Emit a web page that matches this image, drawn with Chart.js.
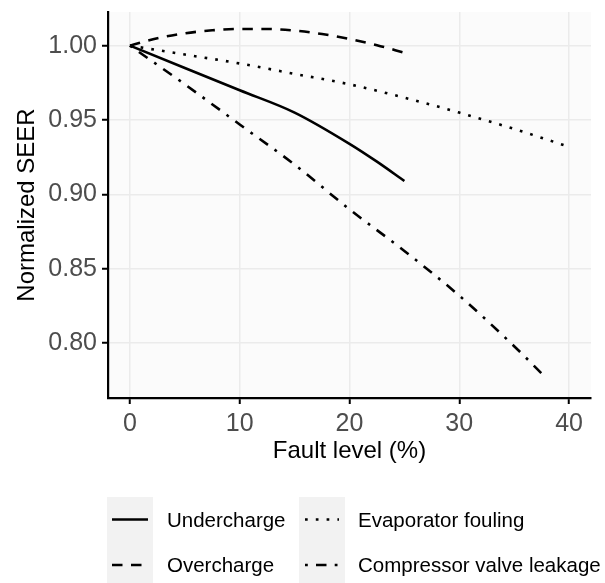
<!DOCTYPE html>
<html>
<head>
<meta charset="utf-8">
<script src="https://cdn.jsdelivr.net/npm/chart.js@4.4.0/dist/chart.umd.min.js"></script>
<style>
  html, body { margin: 0; padding: 0; background: #ffffff; }
  #wrap { width: 605px; height: 583px; position: relative; }
</style>
</head>
<body>
<div id="wrap"><canvas id="seer"></canvas></div>
<script>
// fault level (%) and normalized SEER
var underX = [0, 5, 10, 15, 20, 22.5, 25];
var underY = [1.000, 0.985, 0.970, 0.955, 0.934, 0.922, 0.909];

var overX = [0, 2.5, 5, 7.5, 10, 12.5, 15, 17.5, 20, 22.5, 25];
var overY = [1.000, 1.005, 1.0083, 1.0103, 1.0112, 1.0112, 1.0101, 1.0078, 1.0045, 1.0003, 0.9952];

var foulX = [0, 5, 10, 15, 20, 25, 30, 35, 40];
var foulY = [1.000, 0.994, 0.988, 0.981, 0.974, 0.965, 0.955, 0.944, 0.932];

var leakX = [0, 5, 10, 15, 20, 25, 30, 35, 37.6];
var leakY = [1.000, 0.974, 0.947, 0.920, 0.890, 0.862, 0.832, 0.798, 0.779];

var xTicks = [0, 10, 20, 30, 40];
var yTicks = [0.80, 0.85, 0.90, 0.95, 1.00];

var seriesNames = ["Undercharge", "Overcharge", "Evaporator fouling", "Compressor valve leakage"];

var dashes = {
	solid: [],
	dashed: [10.5, 8.5],
	dotted: [2.7, 8.1],
	dotdash: [2.8, 8.2, 10.5, 8.2]
};

function toPoints(xs, ys) {
	var pts = [];
	for (var i in xs) {
		pts.push({x: xs[i], y: ys[i]});
	}
	return pts;
}

function lineSet(label, xs, ys, dash) {
	return {
		label: label,
		data: toPoints(xs, ys),
		borderColor: "#000000",
		borderWidth: 2.6,
		borderDash: dash,
		borderCapStyle: "butt",
		pointRadius: 0,
		fill: false,
		cubicInterpolationMode: "monotone"
	};
}

var FONT = "'Liberation Sans', Arial, sans-serif";

// grey panel behind the plot area
var panelBg = {
	id: "panelBg",
	beforeDraw: function(chart) {
		var c = chart.ctx, a = chart.chartArea;
		c.save();
		c.fillStyle = "#ffffff";
		c.fillRect(0, 0, chart.width, chart.height);
		c.fillStyle = "#fbfbfb";
		c.fillRect(a.left, a.top, a.right - a.left, a.bottom - a.top);
		c.restore();
	}
};

// ggplot-like legend at the bottom, two columns
var bottomLegend = {
	id: "bottomLegend",
	afterDraw: function(chart) {
		var c = chart.ctx;
		var cols = [{bg: 107, bgW: 46, x0: 112, x1: 148, tx: 167}, {bg: 299, bgW: 46, x0: 305, x1: 339, tx: 358}];
		var rows = [519.5, 565];
		var order = [[0, 0, "solid"], [0, 1, "dashed"], [1, 0, "dotted"], [1, 1, "dotdash"]];
		c.save();
		c.fillStyle = "#f2f2f2";
		c.fillRect(cols[0].bg, 497, cols[0].bgW, 86);
		c.fillRect(cols[1].bg, 497, cols[1].bgW, 86);
		for (var k = 0; k < order.length; k++) {
			var col = cols[order[k][0]];
			var y = rows[order[k][1]];
			c.strokeStyle = "#000000";
			c.lineWidth = 2.6;
			c.lineCap = "butt";
			c.setLineDash(dashes[order[k][2]]);
			c.beginPath();
			c.moveTo(col.x0, y);
			c.lineTo(col.x1, y);
			c.stroke();
			c.setLineDash([]);
			c.fillStyle = "#000000";
			c.font = "20.5px " + FONT;
			c.textBaseline = "alphabetic";
			c.textAlign = "left";
			c.fillText(seriesNames[k], col.tx, y + 7.4);
		}
		c.restore();
	}
};

var ctx = document.getElementById("seer");

var seerChart = new Chart(ctx, {
	type: "line",
	data: {
		datasets: [
			lineSet(seriesNames[0], underX, underY, dashes.solid),
			lineSet(seriesNames[1], overX, overY, dashes.dashed),
			lineSet(seriesNames[2], foulX, foulY, dashes.dotted),
			lineSet(seriesNames[3], leakX, leakY, dashes.dotdash)
		]
	},
	options: {
		responsive: true,
		maintainAspectRatio: false,
		animation: false,
		layout: {padding: {left: 0, top: 12, right: 14, bottom: 113}},
		plugins: {
			legend: {display: false},
			tooltip: {enabled: false}
		},
		scales: {
			x: {
				type: "linear",
				min: -2,
				max: 42,
				afterBuildTicks: function(scale) {
					scale.ticks = xTicks.map(function(v) { return {value: v}; });
				},
				afterFit: function(scale) {
					scale.height = 72;
					scale.paddingLeft = 0;
					scale.paddingRight = 0;
				},
				grid: {color: "#ebebeb", lineWidth: 1.5, tickColor: "#000000", tickWidth: 2, tickLength: 6},
				border: {display: true, color: "#000000", width: 2.2},
				ticks: {
					color: "#4d4d4d",
					padding: 5,
					maxRotation: 0,
					font: {family: FONT, size: 25},
					callback: function(v) { return String(v); }
				},
				title: {
					display: true,
					text: "Fault level (%)",
					color: "#000000",
					font: {family: FONT, size: 24},
					padding: {top: 0, bottom: 4}
				}
			},
			y: {
				type: "linear",
				min: 0.7632,
				max: 1.0226,
				afterBuildTicks: function(scale) {
					scale.ticks = yTicks.map(function(v) { return {value: v}; });
				},
				afterFit: function(scale) {
					scale.width = 108;
					scale.paddingTop = 0;
					scale.paddingBottom = 0;
				},
				grid: {color: "#ebebeb", lineWidth: 1.5, tickColor: "#000000", tickWidth: 2, tickLength: 6},
				border: {display: true, color: "#000000", width: 2.2},
				ticks: {
					color: "#4d4d4d",
					padding: 5,
					font: {family: FONT, size: 25},
					callback: function(v) { return v.toFixed(2); }
				},
				title: {
					display: true,
					text: "Normalized SEER",
					color: "#000000",
					font: {family: FONT, size: 24},
					padding: {top: 13, bottom: 0}
				}
			}
		}
	},
	plugins: [panelBg, bottomLegend]
});
</script>
</body>
</html>
